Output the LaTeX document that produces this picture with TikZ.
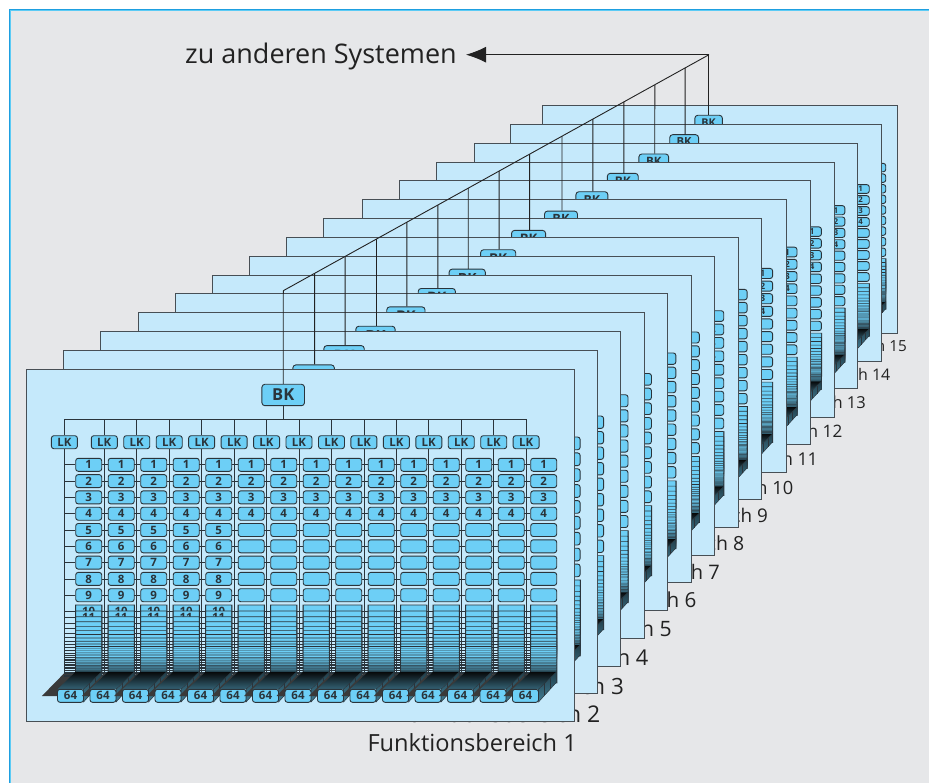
\documentclass[tikz,border=0pt]{standalone}
\usepackage{fontspec}
\setmainfont{Open Sans}
\usetikzlibrary{arrows.meta,calc}
\definecolor{bggray}{HTML}{E6E7E9}
\definecolor{frameA}{HTML}{1E9FE0}
\definecolor{frameB}{HTML}{5CCBF5}
\definecolor{panelfill}{HTML}{C5E9FB}
\definecolor{boxfill}{HTML}{6DCFF6}
\definecolor{inkc}{HTML}{2A343B}
\definecolor{panelline}{HTML}{474F55}
\definecolor{textc}{HTML}{222222}
\tikzset{
  panelbox/.style={draw=panelline,line width=1pt,fill=panelfill},
  lab/.style={inner sep=0pt,text=textc},
  bkbox/.style={draw=inkc,line width=.9pt,fill=boxfill,rounded corners=3pt,transform shape,
    minimum width=42.6pt,minimum height=21.4pt,inner sep=0pt,
    font=\fontsize{16.5}{17}\selectfont\bfseries,text=inkc},
  lkbox/.style={draw=inkc,line width=.9pt,fill=boxfill,rounded corners=2.5pt,transform shape,
    minimum width=26pt,minimum height=13pt,inner sep=0pt,
    font=\fontsize{11.5}{12}\selectfont\bfseries,text=inkc},
  rowbox/.style={lkbox,font=\fontsize{11.5}{12}\selectfont\bfseries},
  stackbox/.style={rowbox,line width=.55pt,rounded corners=.5pt},
  wire/.style={draw=inkc,line width=.8pt},
  thinwire/.style={draw=inkc,line width=.5pt},
  mainwire/.style={draw=textc,line width=.9pt},
  shadowpoly/.style={fill=black!75!bggray},
  floorpoly/.style={top color=black!85!inkc,bottom color=boxfill!48!black},
  sidepoly/.style={top color=boxfill!30!black,bottom color=boxfill!60!black,draw=inkc,line width=.5pt},
}
\newcommand{\fbcolumn}[2]{% panel k, column i
  \pgfmathsetmacro{\xlk}{#2==1?64.4:104.3+32.45*(#2-2)}
  \pgfmathsetmacro{\xbx}{88.7+32.5*(#2-1)}
  \pgfmathsetmacro{\xst}{#2==1?64.4:\xbx-19.5}
  \pgfmathsetmacro{\xft}{\xbx-18.2}
  \pgfmathtruncatemacro{\maxlab}{#2<=5?9:4}
  \coordinate (lktop-#1-#2) at (\xlk,419.3);
  \node[lkbox] (lk-#1-#2) at (\xlk,442.2) {LK};
  \coordinate (lkend-#1-#2) at (\xlk,673);
  \draw[wire] (lktop-#1-#2) -- (lk-#1-#2.north);
  \draw[wire] (lk-#1-#2.south) -- (lkend-#1-#2);
  % shadow of the wires behind the column
  \fill[shadowpoly] (\xlk,673) -- (\xbx-13,673) -- (\xft-13,696) -- (\xlk-22.5,696) -- cycle;
  \foreach \r in {1,...,9}{
    \pgfmathsetmacro{\yr}{464.8+16.3*(\r-1)}
    \pgfmathtruncatemacro{\showit}{\r<=\maxlab?1:0}
    \node[rowbox] (bx-#1-#2-\r) at (\xbx,\yr) {\ifnum\showit=1 \r\fi};
    \coordinate (rs-#1-#2-\r) at (\xst,\yr);
    \draw[wire] (rs-#1-#2-\r) -- (bx-#1-#2-\r.west);
  }
  \foreach \r/\yt in {10/605,11/611,12/616.7,13/621.7,14/626.3,15/630.6,16/634.5,17/638,18/641.2,
      19/644,20/646.5,21/648.7,22/650.7,23/652.5,24/654.1,25/655.7,26/657.3,27/658.9,28/660.5,
      29/662.1,30/663.7,31/665.3,32/666.9,33/668.5,34/670.1}{
    \pgfmathtruncatemacro{\showit}{(\r<=11 && #2<=5)?1:0}
    \pgfmathtruncatemacro{\mixv}{\r<=26?100:100-(\r-26)*6}
    \pgfmathsetmacro{\lw}{\r<=20?.6:.4}
    \node[stackbox,fill=boxfill!\mixv!black,line width=\lw pt] (bx-#1-#2-\r) at (\xbx,\yt+6.5) {\ifnum\showit=1 \r\fi};
    \coordinate (rs-#1-#2-\r) at (\xst,\yt+6.5);
    \draw[thinwire] (rs-#1-#2-\r) -- (bx-#1-#2-\r.west);
  }
  \draw[wire] (bx-#1-#2-10.north west) -- (bx-#1-#2-34.south west);
  \draw[wire] (bx-#1-#2-10.north east) -- (bx-#1-#2-34.south east);
  % floor and side of the stack
  \shade[floorpoly] (\xft-13,689.3) -- (\xft+13,689.3) -- (\xbx+13,671.7) -- (\xbx-13,671.7) -- cycle;
  \shade[sidepoly] (\xft+13,689.3) -- (\xbx+13,671.7) -- (\xbx+13,682) -- (\xft+13,702) -- cycle;
  \foreach \f in {.33,.66}{
    \draw[inkc,line width=.5pt] ($(\xft+13,689.3)!\f!(\xbx+13,671.7)$) -- ($(\xft+13,702)!\f!(\xbx+13,682)$);
  }
  \node[rowbox] (bx-#1-#2-64) at (\xft,695.8) {64};
}
\newcommand{\fbpanel}[6]{% k, L, T, R, B, columns
  \pgfmathsetmacro{\sx}{(#4-#2)/548}
  \pgfmathsetmacro{\sy}{(#5-#3)/351}
  \pgfmathsetmacro{\ox}{#4+3+.5*(#1-1)}
  \pgfmathsetmacro{\oy}{#5+30-.86*(#1-1)}
  \pgfmathsetmacro{\fsz}{23.6*\sx}
  \node[lab,anchor=base east,font=\fontsize{\fsz}{\fsz}\selectfont] (fb-#1) at (\ox,\oy) {Funktionsbereich #1};
  \filldraw[panelbox] (#2,#3) rectangle (#4,#5);
  \begin{scope}[shift={(#2,#3)},xscale=\sx,yscale=\sy,shift={(-26,-370)}]
    \node[bkbox] (bk-#1) at (283.2,395) {BK};
    \foreach \i in {#6}{\fbcolumn{#1}{\i}}
  \end{scope}
}
\begin{document}
\begin{tikzpicture}[x=1pt,y=-1pt]
\useasboundingbox (0,0) rectangle (929,783);
\fill[white] (0,0) rectangle (929,783);
\fill[frameA] (9,9) rectangle (929,783);
\fill[frameB] (10,10) rectangle (929,783);
\fill[bggray] (11,11) rectangle (929,783);
\fbpanel{15}{542}{106}{897}{334}{15}
\fbpanel{14}{510}{125}{881}{362}{15}
\fbpanel{13}{474}{144}{857}{389}{15}
\fbpanel{12}{436}{163}{834}{417}{15}
\fbpanel{11}{399}{181}{810}{444}{15}
\fbpanel{10}{362}{200}{786}{472}{15}
\fbpanel{9}{323}{219}{761}{499}{15}
\fbpanel{8}{286}{238}{738}{527}{15}
\fbpanel{7}{249}{257}{714}{555}{15}
\fbpanel{6}{212}{276}{691}{582}{15}
\fbpanel{5}{175}{294}{667}{610}{15}
\fbpanel{4}{138}{313}{644}{638}{15}
\fbpanel{3}{100}{332}{620}{666}{15}
\fbpanel{2}{63}{351}{597}{693}{15}
\fbpanel{1}{26}{370}{574}{721}{1,...,15}
% bus inside panel 1
\draw[wire] (lktop-1-1) -- (lktop-1-15);
\coordinate (busjoin) at (bk-1.south |- lktop-1-1);
\draw[wire] (bk-1.south) -- (busjoin);
% top-level wiring
\coordinate (dA) at (283.3,290.7);
\coordinate (dB) at (709,54.7);
\node[lab,anchor=base west,font=\fontsize{27}{30}\selectfont] (sys) at (185,64) {zu anderen Systemen};
\coordinate (tip) at (466,54.7);
\draw[mainwire] (dA) -- (dB);
\draw[mainwire,-{Latex[length=20pt,width=16pt]}] (dB) -- (tip);
\draw[mainwire] (bk-1.north) -- (dA);
\foreach \k in {2,...,14}{
  \draw[mainwire] ([xshift=1pt]bk-\k.north) -- (intersection cs:first line={([xshift=1pt]bk-\k.north)--([xshift=1pt]bk-\k.south)},second line={(dA)--(dB)});
}
\draw[mainwire] (bk-15.north) -- (bk-15.north |- dB);
\end{tikzpicture}
\end{document}
